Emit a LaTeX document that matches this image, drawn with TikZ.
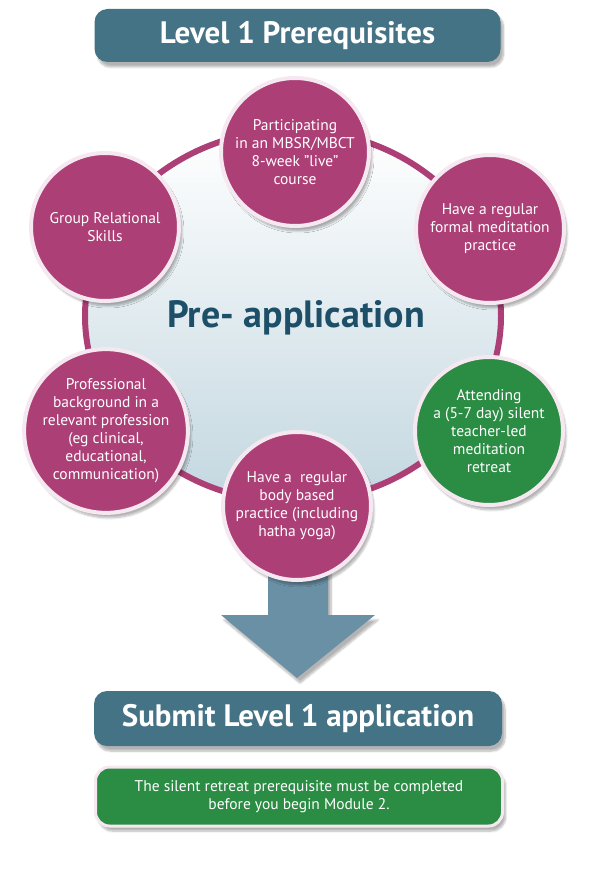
\documentclass[tikz,border=0pt]{standalone}
\usepackage{fontspec}
\setmainfont{PT Sans}
\usetikzlibrary{shadows.blur}
\definecolor{headblue}{HTML}{457386}
\definecolor{berry}{HTML}{AD3F77}
\definecolor{leaf}{HTML}{2B8C44}
\definecolor{rim}{HTML}{F5E8F0}
\definecolor{arrowblue}{HTML}{6A90A5}
\definecolor{titleink}{HTML}{1D5068}
\definecolor{haze}{HTML}{C3D7E0}
\begin{document}
\begin{tikzpicture}[x=1pt,y=-1pt,
    softshadow/.style={blur shadow={shadow xshift=3pt,shadow yshift=-5pt,shadow opacity=30,shadow blur steps=8}},
    header/.style={fill=headblue,rounded corners=13pt,minimum width=406pt,minimum height=53pt,
        text=white,font=\fontsize{31}{34}\selectfont\bfseries,softshadow},
    item/.style={circle,fill=berry,draw=rim,line width=4pt,minimum size=148pt,inner sep=0pt,
        align=center,text=white,font=\fontsize{15.5}{18}\selectfont,softshadow},
    greenitem/.style={item,fill=leaf},
    notebox/.style={fill=leaf,draw=rim,line width=3pt,rounded corners=14pt,minimum width=407pt,
        minimum height=59pt,align=center,text=white,font=\fontsize{15.5}{18}\selectfont,softshadow}]
    \useasboundingbox (0,0) rectangle (589,885);
    \draw[berry,line width=6pt,top color=white,middle color=white,bottom color=haze]
        (293,316) ellipse [x radius=208pt,y radius=186pt];
    \node[text=titleink,font=\fontsize{38}{42}\selectfont\bfseries] (pre) at (296,318) {Pre- application};
    \fill[arrowblue,softshadow] (268,560) -- (328,560) -- (328,615) -- (375,615) -- (297,678)
        -- (221,615) -- (268,615) -- cycle;
    \node[item] (course) at (295,152) {Participating\\in an MBSR/MBCT\\8-week "live"\\course};
    \node[item] (group) at (105,227) {Group Relational\\Skills};
    \node[item] (formal) at (490,229) {Have a regular\\formal meditation\\practice};
    \node[item] (profession) at (106,431) {Professional\\background in a\\relevant profession\\(eg clinical,\\educational,\\communication)};
    \node[greenitem] (retreat) at (489,431) {Attending\\a (5-7 day) silent\\teacher-led\\meditation\\retreat};
    \node[item] (body) at (297,506) {Have a~ regular\\body based\\practice (including\\hatha yoga)};
    \node[header] (prereq) at (297.5,35.5) {Level 1 Prerequisites};
    \node[header,minimum width=408pt,minimum height=55pt] (submit) at (298,718.5) {Submit Level 1 application};
    \node[notebox] (note) at (299,796.5) {The silent retreat prerequisite must be completed\\before you begin Module 2.};
\end{tikzpicture}
\end{document}
